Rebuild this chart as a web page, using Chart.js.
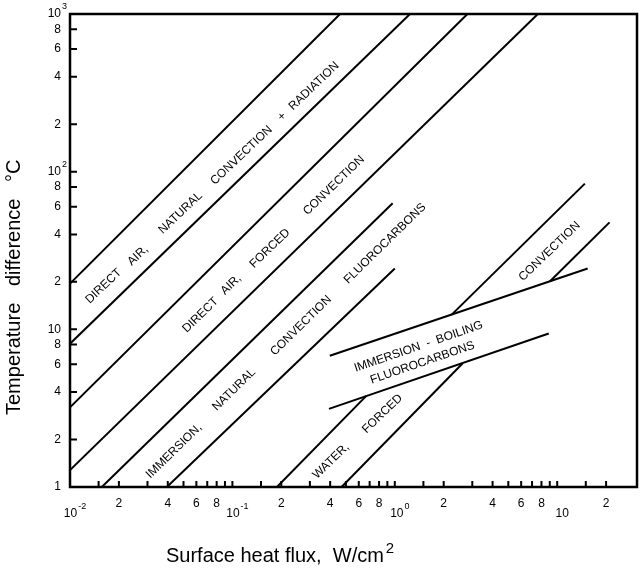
<!DOCTYPE html>
<html lang="en">
<head>
<meta charset="UTF-8">
<title>Surface heat flux vs temperature difference</title>
<script src="https://cdn.jsdelivr.net/npm/chart.js@4.4.0/dist/chart.umd.min.js"></script>
<style>
    body { margin: 0; background: #fff; }
</style>
</head>
<body>
<canvas id="myChart" width="641" height="568"></canvas>
<script>
    // axis ranges: heat flux W/cm^2, temperature difference deg C
    const xMin = 0.01, xMax = 31;
    const yMin = 1, yMax = 1000;

    // tick marks
    const xTickValues = [0.015, 0.02, 0.03, 0.04, 0.05, 0.06, 0.07, 0.08, 0.09, 0.1,
                         0.15, 0.2, 0.3, 0.4, 0.5, 0.6, 0.7, 0.8, 0.9, 1,
                         1.5, 2, 3, 4, 5, 6, 7, 8, 9, 10, 15, 20];
    const yTickValues = [2, 4, 6, 8, 10, 20, 40, 60, 80, 100, 200, 400, 600, 800];

    // tick labels
    const xMinorValues = [0.02, 0.04, 0.06, 0.08, 0.2, 0.4, 0.6, 0.8, 2, 4, 6, 8, 20];
    const xMinorText   = ['2', '4', '6', '8', '2', '4', '6', '8', '2', '4', '6', '8', '2'];
    const xMajorValues = [0.01, 0.1, 1, 10];
    const xMajorSup    = ['-2', '-1', '0', ''];
    const yLabelValues = [1, 2, 4, 6, 8, 10, 20, 40, 60, 80, 100, 200, 400, 600, 800, 1000];
    const yLabelText   = ['1', '2', '4', '6', '8', '10', '2', '4', '6', '8', '10', '2', '4', '6', '8', '10'];
    const yLabelSup    = ['', '', '', '', '', '', '', '', '', '', '2', '', '', '', '', '3'];

    // boundary lines [x, y]
    const airNaturalTop    = [[0.01, 19.5], [0.46, 1000]];
    const airNaturalBottom = [[0.01, 8.1], [1.24, 1000]];
    const airForcedTop     = [[0.01, 3.2], [2.8, 1000]];
    const airForcedBottom  = [[0.01, 1.28], [7.6, 1000]];
    const immersionTop     = [[0.0157, 1], [0.97, 63]];
    const immersionBottom  = [[0.0395, 1], [1.0, 24.3]];
    const waterTopLow      = [[0.188, 1], [0.67, 3.8]];
    const waterTopHigh     = [[2.24, 12.4], [14.8, 84]];
    const waterBottomLow   = [[0.47, 1], [2.62, 6.1]];
    const waterBottomHigh  = [[9.0, 20.1], [21, 47.7]];
    const boilingTop       = [[0.398, 6.8], [15.4, 24.3]];
    const boilingBottom    = [[0.393, 3.13], [8.87, 9.4]];

    // annotations along the bands
    const noteText  = ['DIRECT', 'AIR,', 'NATURAL', 'CONVECTION', '+', 'RADIATION',
                       'DIRECT', 'AIR,', 'FORCED', 'CONVECTION',
                       'IMMERSION,', 'NATURAL', 'CONVECTION', 'FLUOROCARBONS',
                       'WATER,', 'FORCED', 'CONVECTION',
                       'IMMERSION  -  BOILING', 'FLUOROCARBONS'];
    const noteX     = [0.0161, 0.0262, 0.0479, 0.1138, 0.2019, 0.318,
                       0.0636, 0.098, 0.1704, 0.422,
                       0.0437, 0.1023, 0.2645, 0.870,
                       0.4047, 0.840, 8.97,
                       1.40, 1.48];
    const noteY     = [18.8, 29.4, 54.7, 127, 223, 349,
                       12.3, 19.2, 32.6, 81.9,
                       1.69, 4.14, 10.55, 35.0,
                       1.46, 2.91, 31.2,
                       7.76, 6.14];
    const noteAngle = [43.5, 43.5, 43.5, 43.5, 43.5, 43.5,
                       44, 44, 44, 44,
                       44.4, 44.4, 44.4, 44.4,
                       44, 44, 44,
                       19, 19];

    const lines = [airNaturalTop, airNaturalBottom, airForcedTop, airForcedBottom,
                   immersionTop, immersionBottom, waterTopLow, waterTopHigh,
                   waterBottomLow, waterBottomHigh, boilingTop, boilingBottom];

    const FONT = '"Liberation Sans", Arial, sans-serif';

    function drawPower(ctx, base, sup, px, py, align) {
        ctx.font = '12px ' + FONT;
        const wb = ctx.measureText(base).width;
        ctx.font = '9px ' + FONT;
        const ws = sup ? ctx.measureText(sup).width + 1 : 0;
        let left = px;
        if (align === 'center') left = px - (wb + ws) / 2;
        if (align === 'right') left = px - wb;
        ctx.textAlign = 'left';
        ctx.textBaseline = 'middle';
        ctx.font = '12px ' + FONT;
        ctx.fillText(base, left, py);
        if (sup) {
            ctx.font = '9px ' + FONT;
            ctx.fillText(sup, left + wb + 1, py - 7);
        }
    }

    const paperPlugin = {
        id: 'paper',
        afterDraw(chart) {
            const ctx = chart.ctx;
            const a = chart.chartArea;
            const x = chart.scales.x;
            const y = chart.scales.y;
            ctx.save();
            ctx.strokeStyle = '#000';
            ctx.fillStyle = '#000';

            // inward ticks
            ctx.lineWidth = 2;
            ctx.beginPath();
            xTickValues.forEach(v => {
                const px = x.getPixelForValue(v);
                ctx.moveTo(px, a.bottom);
                ctx.lineTo(px, a.bottom - 6);
            });
            yTickValues.forEach(v => {
                const py = y.getPixelForValue(v);
                ctx.moveTo(a.left, py);
                ctx.lineTo(a.left + 7, py);
            });
            ctx.stroke();

            // frame
            ctx.lineWidth = 2.5;
            ctx.strokeRect(a.left, a.top, a.right - a.left, a.bottom - a.top);

            // x tick labels
            ctx.font = '12px ' + FONT;
            ctx.textAlign = 'center';
            ctx.textBaseline = 'middle';
            xMinorValues.forEach((v, i) => {
                ctx.fillText(xMinorText[i], x.getPixelForValue(v), a.bottom + 17);
            });
            xMajorValues.forEach((v, i) => {
                drawPower(ctx, '10', xMajorSup[i], x.getPixelForValue(v) + 5, a.bottom + 27, 'center');
            });

            // y tick labels
            yLabelValues.forEach((v, i) => {
                drawPower(ctx, yLabelText[i], yLabelSup[i], a.left - 9, y.getPixelForValue(v), 'right');
            });

            // notes
            ctx.font = '12px ' + FONT;
            ctx.textAlign = 'center';
            ctx.textBaseline = 'middle';
            noteText.forEach((t, i) => {
                ctx.save();
                ctx.translate(x.getPixelForValue(noteX[i]), y.getPixelForValue(noteY[i]));
                ctx.rotate(-noteAngle[i] * Math.PI / 180);
                ctx.fillText(t, 0, 0);
                ctx.restore();
            });

            // axis titles
            ctx.font = '20px ' + FONT;
            ctx.textAlign = 'left';
            ctx.textBaseline = 'alphabetic';
            ctx.fillText('Surface heat flux,  W/cm', 166, 562);
            const wt = ctx.measureText('Surface heat flux,  W/cm').width;
            ctx.font = '15px ' + FONT;
            ctx.fillText('2', 166 + wt + 2, 553);

            ctx.save();
            ctx.translate(20, 415);
            ctx.rotate(-Math.PI / 2);
            ctx.font = '20px ' + FONT;
            ctx.fillText('Temperature   difference   \u00B0C', 0, 0);
            ctx.restore();

            ctx.restore();
        }
    };

    const ctx = document.getElementById('myChart').getContext('2d');
    const myChart = new Chart(ctx, {
        type: 'scatter',
        data: {
            datasets: lines.map(pts => ({
                data: pts.map(p => ({x: p[0], y: p[1]})),
                showLine: true,
                borderColor: '#000',
                borderWidth: 2,
                pointRadius: 0,
                fill: false
            }))
        },
        options: {
            responsive: false,
            animation: false,
            layout: {
                padding: {left: 62, right: 4, top: 14, bottom: 73}
            },
            scales: {
                x: {
                    type: 'logarithmic',
                    min: xMin,
                    max: xMax,
                    ticks: {display: false},
                    grid: {display: false},
                    border: {display: false}
                },
                y: {
                    type: 'logarithmic',
                    min: yMin,
                    max: yMax,
                    ticks: {display: false},
                    grid: {display: false},
                    border: {display: false}
                }
            },
            plugins: {
                legend: {display: false},
                tooltip: {enabled: false}
            }
        },
        plugins: [paperPlugin]
    });
</script>
</body>
</html>
